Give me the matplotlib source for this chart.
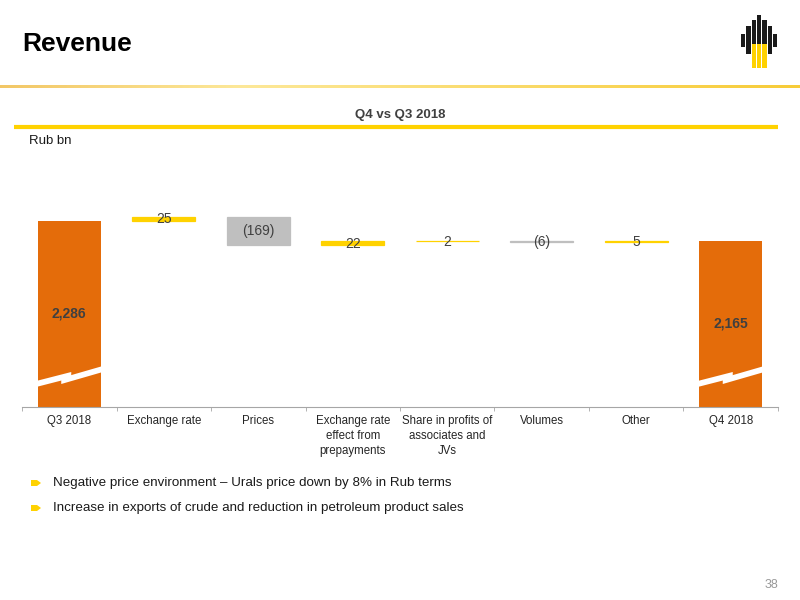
import matplotlib.pyplot as plt
from matplotlib.patches import Polygon, Rectangle
import numpy as np

plt.rcParams['font.family'] = ['Liberation Sans', 'DejaVu Sans']

# waterfall data (Rub bn)
categories = ['Q3 2018', 'Exchange rate', 'Prices', 'Exchange rate\neffect from\nprepayments',
              'Share in profits of\nassociates and\nJVs', 'Volumes', 'Other', 'Q4 2018']
start_value = 2286
deltas = [25, -169, 22, 2, -6, 5]
end_value = 2165
delta_labels = ['25', '(169)', '22', '2', '(6)', '5']
bullets = ['Negative price environment \u2013 Urals price down by 8% in Rub terms',
           'Increase in exports of crude and reduction in petroleum product sales']

ORANGE = '#E46C0A'
YELLOW = '#FFD200'
GREY = '#BFBFBF'
TXT = '#404040'

fig = plt.figure(figsize=(8, 6), dpi=100)

# page overlay in pixel coords
page = fig.add_axes([0, 0, 1, 1])
page.set_xlim(0, 800)
page.set_ylim(600, 0)
page.axis('off')

page.text(22, 44, 'Revenue', fontsize=19, fontweight='bold', va='center', ha='left', color='black')

# header rule: gradient strip, lighter towards the middle-left
t = np.linspace(0, 1, 400)
c0 = np.array([0.95, 0.78, 0.40])
c1 = np.array([0.99, 0.91, 0.60])
c2 = np.array([0.97, 0.80, 0.22])
grad = np.where(t[:, None] < 0.3,
                c0 + (c1 - c0) * (t[:, None] / 0.3),
                c1 + (c2 - c1) * ((t[:, None] - 0.3) / 0.7))
page.imshow(grad[None, :, :], extent=[0, 800, 88.3, 85.7], aspect='auto', interpolation='bilinear')
page.set_xlim(0, 800)
page.set_ylim(600, 0)

page.text(400, 115, 'Q4 vs Q3 2018', fontsize=9.5, fontweight='bold', ha='center', va='center', color=TXT)
page.plot([14, 778], [127, 127], color=YELLOW, lw=3, solid_capstyle='butt')
page.text(29, 141, 'Rub bn', fontsize=9.5, ha='left', va='center', color='#1a1a1a')

# logo
tops = [34, 26, 20, 15, 20, 26, 34]
bots = [47, 54, 58, 60, 58, 54, 47]
for i in range(7):
    x = 741 + i * 5.3
    page.add_patch(Rectangle((x, tops[i]), 4.3, bots[i] - tops[i], color='#1a1a1a', lw=0))
for i in range(3):
    x = 751.6 + i * 5.3
    page.add_patch(Rectangle((x, 44), 4.3, 24, color=YELLOW, lw=0))

# bullets
for k, txt in enumerate(bullets):
    y = 483 + k * 25
    page.add_patch(Polygon([[31, y - 3], [37, y - 3], [41, y], [37, y + 3], [31, y + 3]],
                           closed=True, color=YELLOW, lw=0))
    page.text(53, y, txt, fontsize=9.6, ha='left', va='center', color='#1a1a1a')

page.text(778, 585, '38', fontsize=9, ha='right', va='center', color='#999999')

# chart
ax = fig.add_axes([22 / 800, 1 - 407 / 600, 756 / 800, 237 / 600])
ax.set_zorder(2)
ax.patch.set_alpha(0)
ymin = 1160
ax.set_ylim(ymin, ymin + 237 * 6.05)
ax.set_xlim(-0.5, len(categories) - 0.5)

w = 0.67
x = np.arange(len(categories))
ax.bar(x[0], start_value - ymin, bottom=ymin, width=w, color=ORANGE, lw=0)
ax.bar(x[-1], end_value - ymin, bottom=ymin, width=w, color=ORANGE, lw=0)
ax.text(x[0], (start_value + ymin) / 2, '{:,}'.format(start_value), ha='center', va='center',
        fontsize=10, fontweight='bold', color=TXT)
ax.text(x[-1], (end_value + ymin) / 2, '{:,}'.format(end_value), ha='center', va='center',
        fontsize=10, fontweight='bold', color=TXT)

level = start_value
for i, d in enumerate(deltas):
    xi = x[i + 1]
    col = YELLOW if d > 0 else GREY
    bottom = level if d > 0 else level + d
    ax.bar(xi, abs(d), bottom=bottom, width=w, color=col, edgecolor=col, lw=0.9)
    ax.text(xi, bottom + abs(d) / 2 - 4, delta_labels[i], ha='center', va='center', fontsize=10, color=TXT)
    level += d

# axis break marks
px_x = 1 / 94.5
px_y = 6.05
y0 = ymin + 32 * px_y
for xi in (x[0], x[-1]):
    for pts in ([(-37, -13), (-37, -7), (2, 3), (2, -3)],
                [(-8, -9), (-8, -3), (37, 10), (37, 4)]):
        ax.add_patch(Polygon([(xi + dx * px_x, y0 + dy * px_y) for dx, dy in pts],
                             closed=True, color='white', lw=0, zorder=3))

for s in ['top', 'right', 'left']:
    ax.spines[s].set_visible(False)
ax.spines['bottom'].set_color('#A6A6A6')
ax.set_yticks([])
ax.set_xticks(x)
ax.set_xticklabels(categories, fontsize=8.3, color='#262626', linespacing=1.3)
ax.tick_params(axis='x', length=0, pad=6)
ax.set_xticks(np.arange(-0.5, len(categories)), minor=True)
ax.tick_params(axis='x', which='minor', length=3, color='#A6A6A6')

fig.savefig('out.png', dpi=100)
